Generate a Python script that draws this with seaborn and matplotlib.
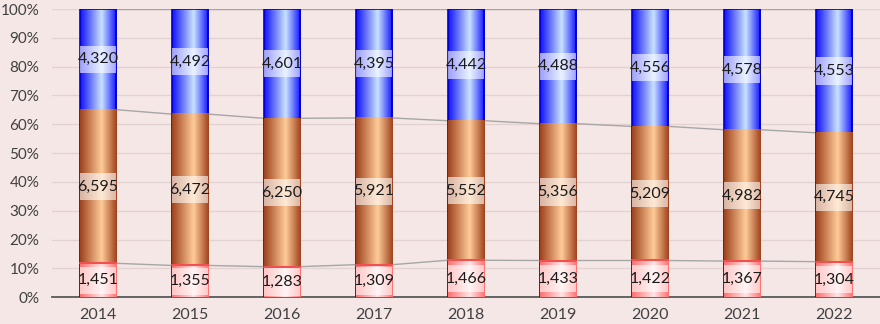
import numpy as np
import pandas as pd
import matplotlib
matplotlib.use("Agg")
import matplotlib.pyplot as plt
import seaborn as sns
from matplotlib.colors import LinearSegmentedColormap
from matplotlib.patches import Rectangle

years = ["2014", "2015", "2016", "2017", "2018", "2019", "2020", "2021", "2022"]
bottom_vals = [1451, 1355, 1283, 1309, 1466, 1433, 1422, 1367, 1304]
middle_vals = [6595, 6472, 6250, 5921, 5552, 5356, 5209, 4982, 4745]
top_vals = [4320, 4492, 4601, 4395, 4442, 4488, 4556, 4578, 4553]

bg = "#F6E7E7"
sns.set_theme(style="white")
plt.rcParams["font.family"] = ["Lato", "DejaVu Sans"]

b = np.array(bottom_vals, float)
m = np.array(middle_vals, float)
t = np.array(top_vals, float)
total = b + m + t
df = pd.DataFrame({
    "year": years,
    "c1": b / total * 100,
    "c2": (b + m) / total * 100,
    "c3": total / total * 100,
})

fig = plt.figure(figsize=(8.8, 3.24), dpi=100, facecolor=bg)
ax = fig.add_axes([0.059, 0.083, 0.941, 0.889])
ax.set_facecolor(bg)

# overlay stacking: full bar first, then smaller ones on top
series = [
    ("c3", "#1010FF", "#C8E2FF", "#0000C8"),
    ("c2", "#9E421C", "#FFCB98", "none"),
    ("c1", "#FF7070", "#FFE6E6", "none"),
]
z = 2
for col, edge_c, mid_c, line_c in series:
    n0 = len(ax.patches)
    sns.barplot(data=df, x="year", y=col, color=edge_c, width=0.4,
                saturation=1, ax=ax, zorder=z)
    cmap = LinearSegmentedColormap.from_list(col, [edge_c, mid_c, edge_c])
    grad = cmap(np.concatenate([np.linspace(0, 0.5, 150), np.linspace(0.5, 1, 106)]))[None, :, :]
    for p in ax.patches[n0:]:
        x0, y0 = p.get_x(), p.get_y()
        w, h = p.get_width(), p.get_height()
        ax.imshow(grad, extent=[x0, x0 + w, y0, y0 + h], aspect="auto",
                  zorder=z + 0.5, interpolation="bilinear")
        p.set_edgecolor(line_c)
        p.set_linewidth(1.2)
        p.set_zorder(z + 0.6)
        p.set_facecolor("none")
    z += 1

nb = len(years)
bot_p = ax.patches[2 * nb:]

# red top stripe on the bottom segment
for p in bot_p:
    ax.plot([p.get_x(), p.get_x() + p.get_width()], [p.get_height()] * 2,
            color="#F05050", lw=1.5, zorder=6)

# series lines between bars
for col in ["c1", "c2", "c3"]:
    for i in range(nb - 1):
        pa, pb = bot_p[i], bot_p[i + 1]
        ax.plot([pa.get_x() + pa.get_width(), pb.get_x()],
                [df[col].iloc[i], df[col].iloc[i + 1]],
                color="#A6A6A6", lw=1, zorder=1.5)

# data labels with white boxes spanning the bar
box_h = 9.5
for i in range(nb):
    p = bot_p[i]
    ys = [df["c1"].iloc[i] / 2,
          (df["c1"].iloc[i] + df["c2"].iloc[i]) / 2,
          (df["c2"].iloc[i] + 100) / 2]
    for y, v in zip(ys, [bottom_vals[i], middle_vals[i], top_vals[i]]):
        ax.add_patch(Rectangle((p.get_x(), y - box_h / 2), p.get_width(), box_h,
                               fc="white", ec="none", alpha=0.6, zorder=9))
        ax.text(p.get_x() + p.get_width() / 2, y, f"{v:,}", ha="center",
                va="center", fontsize=11.5, color="#1A1A1A", zorder=10)

ax.set_xlim(-0.5, nb - 0.5)
ax.set_ylim(0, 100)
ax.set_yticks(range(0, 101, 10))
ax.set_yticklabels([f"{v}%" for v in range(0, 101, 10)])
ax.set_xlabel("")
ax.set_ylabel("")
ax.grid(axis="y", color="#E2D2D2", lw=1, zorder=0)
ax.set_axisbelow(True)
for s in ["top", "left", "right"]:
    ax.spines[s].set_visible(False)
ax.spines["bottom"].set_color("#595959")
ax.spines["bottom"].set_linewidth(1.3)
ax.tick_params(axis="y", length=0, pad=9, labelsize=11, labelcolor="#404040")
ax.tick_params(axis="x", length=0, pad=8, labelsize=11.5, labelcolor="#404040")

fig.savefig("out.png", dpi=100, facecolor=bg)
